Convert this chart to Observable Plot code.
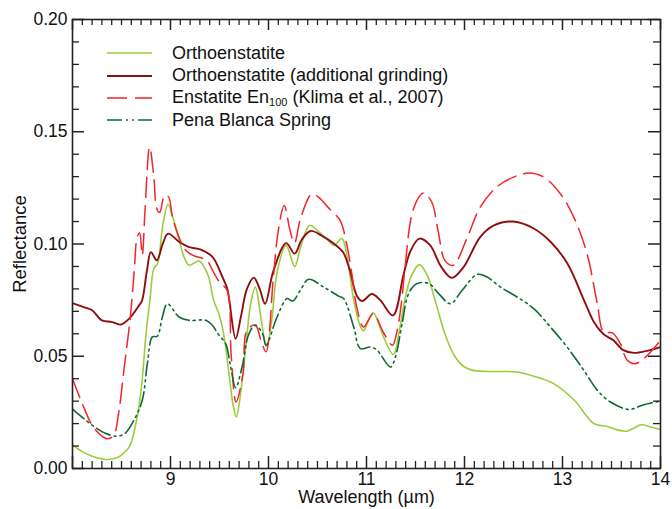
<!DOCTYPE html>
<html>
<head>
<meta charset="utf-8">
<script src="https://cdn.jsdelivr.net/npm/d3@7"></script>
<script src="https://cdn.jsdelivr.net/npm/@observablehq/plot@0.6"></script>
<style>
  body { margin: 0; background: #fff; }
  #wrap { position: relative; width: 672px; height: 509px; font-family: "Liberation Sans", Arial, sans-serif; }
  #legend { position: absolute; left: 107px; top: 42px; font-size: 18px; color: #111; }
  .row { display: flex; align-items: center; height: 22.4px; white-space: nowrap; }
  .row svg { margin-right: 20px; flex: none; }
  sub { font-size: 11px; vertical-align: -3px; line-height: 0; }
</style>
</head>
<body>
<div id="wrap"><div id="legend"></div></div>
<script>
// Orthoenstatite
const orthoWl = [8.00, 8.10, 8.20, 8.30, 8.36, 8.45, 8.50, 8.58, 8.66, 8.71, 8.75, 8.79, 8.83, 8.87, 8.92, 8.975, 9.03, 9.09, 9.14, 9.19, 9.24, 9.29, 9.34, 9.39, 9.44, 9.50, 9.55, 9.60, 9.64, 9.672, 9.72, 9.77, 9.82, 9.866, 9.92, 9.978, 10.03, 10.09, 10.18, 10.267, 10.33, 10.42, 10.50, 10.60, 10.67, 10.75, 10.80, 10.87, 10.94, 10.97, 11.02, 11.07, 11.12, 11.18, 11.275, 11.33, 11.39, 11.46, 11.54, 11.62, 11.70, 11.80, 11.90, 12.00, 12.10, 12.30, 12.54, 12.70, 12.91, 13.12, 13.32, 13.46, 13.56, 13.65, 13.72, 13.80, 13.90, 14.00];
const orthoR = [0.0105, 0.0075, 0.0055, 0.0043, 0.0040, 0.0048, 0.0060, 0.0096, 0.023, 0.039, 0.060, 0.075, 0.089, 0.0915, 0.108, 0.1177, 0.111, 0.1016, 0.094, 0.0905, 0.0915, 0.0924, 0.0900, 0.0853, 0.075, 0.068, 0.058, 0.041, 0.028, 0.023, 0.035, 0.055, 0.074, 0.0808, 0.068, 0.0544, 0.065, 0.088, 0.0994, 0.090, 0.099, 0.1083, 0.106, 0.102, 0.0994, 0.1024, 0.095, 0.075, 0.063, 0.0613, 0.066, 0.0694, 0.065, 0.058, 0.0507, 0.060, 0.075, 0.086, 0.0908, 0.086, 0.075, 0.060, 0.050, 0.0452, 0.0436, 0.0432, 0.0430, 0.0412, 0.0378, 0.0304, 0.0200, 0.0187, 0.0172, 0.0166, 0.0178, 0.0195, 0.0185, 0.0174];

// Orthoenstatite after additional grinding
const groundWl = [8.00, 8.13, 8.20, 8.30, 8.40, 8.49, 8.58, 8.68, 8.71, 8.76, 8.80, 8.86, 8.92, 8.975, 9.09, 9.19, 9.31, 9.43, 9.53, 9.58, 9.60, 9.665, 9.72, 9.78, 9.85, 9.91, 9.965, 10.05, 10.18, 10.267, 10.34, 10.43, 10.55, 10.665, 10.76, 10.83, 10.90, 10.955, 11.055, 11.14, 11.27, 11.38, 11.45, 11.54, 11.65, 11.76, 11.87, 11.99, 12.16, 12.30, 12.50, 12.71, 12.88, 13.05, 13.22, 13.32, 13.42, 13.52, 13.62, 13.73, 13.86, 14.00];
const groundR = [0.0737, 0.0717, 0.0705, 0.066, 0.0653, 0.0641, 0.0668, 0.0727, 0.0749, 0.0883, 0.0964, 0.0927, 0.100, 0.1046, 0.1009, 0.0986, 0.0975, 0.0942, 0.0853, 0.080, 0.075, 0.0578, 0.068, 0.080, 0.085, 0.080, 0.0734, 0.088, 0.1004, 0.0957, 0.102, 0.1058, 0.1035, 0.1002, 0.0964, 0.0883, 0.0771, 0.0746, 0.0777, 0.075, 0.0682, 0.0868, 0.097, 0.1024, 0.0994, 0.090, 0.0849, 0.0897, 0.1031, 0.1083, 0.1100, 0.1068, 0.1009, 0.0913, 0.0749, 0.0653, 0.0598, 0.0571, 0.0527, 0.0515, 0.0524, 0.0541];

// Enstatite En100 (Klima et al., 2007)
const klimaWl = [8.00, 8.10, 8.20, 8.29, 8.355, 8.42, 8.475, 8.525, 8.59, 8.63, 8.66, 8.685, 8.712, 8.74, 8.787, 8.83, 8.86, 8.89, 8.94, 8.98, 9.02, 9.10, 9.16, 9.23, 9.37, 9.42, 9.50, 9.577, 9.62, 9.669, 9.74, 9.78, 9.865, 9.93, 9.975, 10.05, 10.10, 10.16, 10.22, 10.265, 10.325, 10.44, 10.51, 10.61, 10.73, 10.79, 10.85, 10.90, 10.97, 11.07, 11.17, 11.265, 11.31, 11.36, 11.39, 11.48, 11.58, 11.665, 11.73, 11.80, 11.884, 12.03, 12.16, 12.33, 12.50, 12.655, 12.81, 12.978, 13.115, 13.25, 13.355, 13.42, 13.51, 13.59, 13.66, 13.74, 13.85, 14.00];
const klimaR = [0.0400, 0.0289, 0.0193, 0.0148, 0.0132, 0.0148, 0.026, 0.044, 0.0675, 0.088, 0.103, 0.1049, 0.095, 0.115, 0.1432, 0.1298, 0.1157, 0.1140, 0.1217, 0.1210, 0.112, 0.1016, 0.097, 0.0949, 0.0927, 0.089, 0.083, 0.0794, 0.050, 0.0296, 0.0423, 0.0616, 0.0638, 0.056, 0.052, 0.0853, 0.106, 0.1172, 0.106, 0.1004, 0.1110, 0.1222, 0.1209, 0.1162, 0.1105, 0.1016, 0.0868, 0.072, 0.063, 0.069, 0.0608, 0.0549, 0.0608, 0.075, 0.0883, 0.1157, 0.1227, 0.1187, 0.106, 0.0927, 0.0905, 0.1031, 0.1164, 0.1254, 0.1298, 0.1316, 0.1298, 0.1224, 0.112, 0.0957, 0.0734, 0.0608, 0.0604, 0.0556, 0.0482, 0.0467, 0.0497, 0.0571];

// Pena Blanca Spring
const penaWl = [8.00, 8.10, 8.20, 8.34, 8.457, 8.54, 8.627, 8.712, 8.764, 8.815, 8.865, 8.917, 8.968, 9.087, 9.19, 9.36, 9.427, 9.495, 9.563, 9.614, 9.665, 9.73, 9.80, 9.865, 9.94, 9.975, 10.087, 10.19, 10.246, 10.325, 10.41, 10.563, 10.716, 10.767, 10.87, 10.937, 11.04, 11.108, 11.244, 11.295, 11.363, 11.43, 11.516, 11.635, 11.737, 11.856, 11.976, 12.13, 12.23, 12.367, 12.537, 12.707, 12.877, 13.047, 13.217, 13.354, 13.49, 13.676, 13.813, 14.00];
const penaR = [0.0265, 0.0228, 0.0193, 0.0156, 0.0144, 0.0158, 0.0215, 0.0304, 0.0467, 0.0586, 0.0589, 0.0675, 0.0734, 0.0675, 0.066, 0.066, 0.0638, 0.0593, 0.0556, 0.0452, 0.036, 0.0452, 0.060, 0.0638, 0.060, 0.0549, 0.0675, 0.0757, 0.0746, 0.0794, 0.0843, 0.0808, 0.0768, 0.0757, 0.063, 0.0534, 0.0541, 0.0527, 0.0452, 0.0497, 0.0645, 0.0779, 0.0824, 0.0824, 0.0779, 0.0734, 0.0794, 0.0864, 0.0853, 0.0808, 0.0764, 0.0712, 0.063, 0.0541, 0.0438, 0.0349, 0.0296, 0.0263, 0.0282, 0.0301];

// Axis ticks
const xTickLabels = [9, 10, 11, 12, 13, 14];
const yTickLabels = [0.00, 0.05, 0.10, 0.15, 0.20];
const legendLabels = ["Orthoenstatite", "Orthoenstatite (additional grinding)", "Enstatite En<sub>100</sub> (Klima et al., 2007)", "Pena Blanca Spring"];

const series = [
  {wl: orthoWl, r: orthoR, stroke: "#9dcb3e", width: 1.6, dash: null},
  {wl: groundWl, r: groundR, stroke: "#8e0f0f", width: 1.9, dash: null},
  {wl: klimaWl, r: klimaR, stroke: "#f2262a", width: 1.5, dash: "20,8"},
  {wl: penaWl, r: penaR, stroke: "#0d6a36", width: 1.6, dash: "15,4,2,4,2,4"}
];

const W = 672, H = 509, mL = 72, mR = 12, mT = 19, mB = 41;
const iw = W - mL - mR, ih = H - mT - mB;

const xMajor = d3.range(8, 15, 1);
const xMinor = d3.range(80, 141).filter(i => i % 10 !== 0).map(i => i / 10);
const yMajor = d3.range(0, 21, 5).map(i => i / 100);
const yMinor = d3.range(0, 21).filter(i => i % 5 !== 0).map(i => i / 100);

const tickColor = "#222";
const ticks = [
  // bottom and top (inward)
  Plot.tickX(xMinor, {x: d => d, insetTop: ih - 7, stroke: tickColor, strokeWidth: 1.3}),
  Plot.tickX(xMinor, {x: d => d, insetBottom: ih - 6, stroke: tickColor, strokeWidth: 1.3}),
  Plot.tickX(xMajor, {x: d => d, insetTop: ih - 12, stroke: tickColor, strokeWidth: 1.5}),
  Plot.tickX(xMajor, {x: d => d, insetBottom: ih - 11, stroke: tickColor, strokeWidth: 1.5}),
  // left and right (inward)
  Plot.tickY(yMinor, {y: d => d, insetRight: iw - 7, stroke: tickColor, strokeWidth: 1.3}),
  Plot.tickY(yMinor, {y: d => d, insetLeft: iw - 7, stroke: tickColor, strokeWidth: 1.3}),
  Plot.tickY(yMajor, {y: d => d, insetRight: iw - 12, stroke: tickColor, strokeWidth: 1.5}),
  Plot.tickY(yMajor, {y: d => d, insetLeft: iw - 12, stroke: tickColor, strokeWidth: 1.5})
];

const lines = series.map(s => Plot.line(s.r, {
  x: s.wl, y: s.r, curve: "catmull-rom",
  stroke: s.stroke, strokeWidth: s.width, strokeDasharray: s.dash, clip: true
}));

const chart = Plot.plot({
  width: W, height: H,
  marginLeft: mL, marginRight: mR, marginTop: mT, marginBottom: mB,
  style: {fontFamily: "'Liberation Sans', Arial, sans-serif", fontSize: "17.5px", color: "#111", background: "#fff"},
  x: {domain: [8, 14]},
  y: {domain: [0, 0.2]},
  marks: [
    ...lines,
    ...ticks,
    Plot.frame({stroke: "#222", strokeWidth: 1.6}),
    Plot.axisX({ticks: xTickLabels, tickSize: 0, tickPadding: 4, tickFormat: d3.format("d"), label: null}),
    Plot.axisX({ticks: [], tickSize: 0, label: "Wavelength (µm)", labelAnchor: "center", labelOffset: 34.5, labelArrow: false, fontSize: 18}),
    Plot.axisY({ticks: yTickLabels, tickSize: 0, tickPadding: 5, tickFormat: d3.format(".2f"), label: null}),
    Plot.axisY({ticks: [], tickSize: 0, label: "Reflectance", labelAnchor: "center", labelOffset: 60, labelArrow: false, fontSize: 18.5})
  ]
});

const wrap = document.getElementById("wrap");
wrap.insertBefore(chart, wrap.firstChild);

const legend = document.getElementById("legend");
series.forEach((s, i) => {
  const row = document.createElement("div");
  row.className = "row";
  row.innerHTML = `<svg width="45" height="10"><line x1="0" x2="45" y1="5" y2="5" stroke="${s.stroke}" stroke-width="${s.width}" ${s.dash ? `stroke-dasharray="${s.dash}"` : ""}/></svg><span>${legendLabels[i]}</span>`;
  legend.appendChild(row);
});
</script>
</body>
</html>
